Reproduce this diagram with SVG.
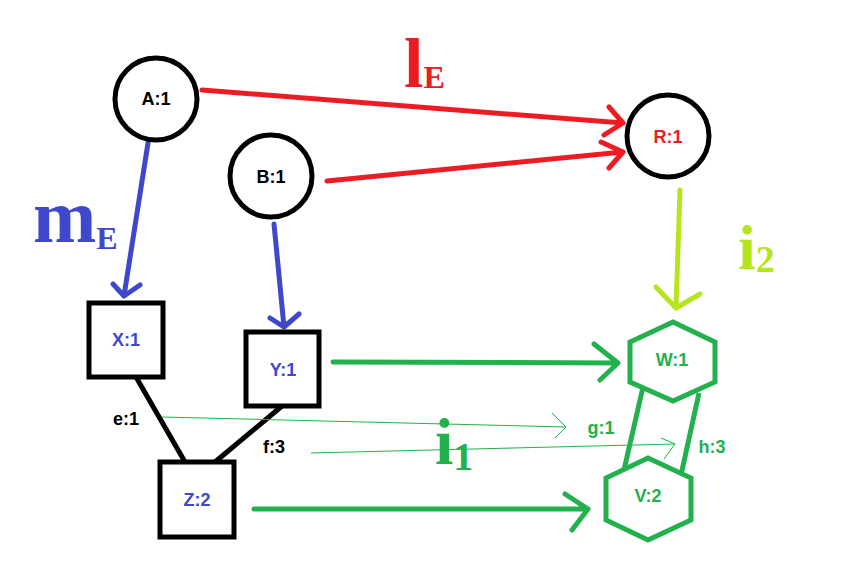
<svg xmlns="http://www.w3.org/2000/svg" width="845" height="579" viewBox="0 0 845 579">
<style>
.node{fill:#fff;stroke:#000;stroke-width:5}
.hex{fill:#fff;stroke:#22b14c;stroke-width:5;stroke-linejoin:miter}
.t{font-family:"Liberation Sans",Arial,sans-serif;font-weight:bold;font-size:18px;text-anchor:middle;dominant-baseline:central}
.lbl{font-family:"Liberation Serif","Times New Roman",serif;font-weight:bold}
.red{stroke:#ed1c24;stroke-width:5;fill:none;stroke-linecap:round;stroke-linejoin:round}
.blue{stroke:#3f48cc;stroke-width:5;fill:none;stroke-linecap:round;stroke-linejoin:round}
.grn{stroke:#22b14c;stroke-width:5;fill:none;stroke-linecap:round;stroke-linejoin:round}
.thin{stroke:#22b14c;stroke-width:1;fill:none}
.lime{stroke:#b5e61d;stroke-width:5;fill:none;stroke-linecap:round;stroke-linejoin:round}
.edge{stroke:#000;stroke-width:5;fill:none}
.gedge{stroke:#22b14c;stroke-width:5;fill:none}
</style>
<rect width="845" height="579" fill="#fff"/>
<g id="connectors">
<line class="edge" x1="136" y1="377" x2="185" y2="462"/>
<line class="edge" x1="282" y1="406" x2="215" y2="462"/>
<line class="gedge" x1="643" y1="387" x2="624" y2="470"/>
<line class="gedge" x1="699" y1="393" x2="681" y2="475"/>
<path class="red" d="M202,90 L623,123 M609,107 L623,123 L604,135"/>
<path class="red" d="M327,181 L623,152 M601,142 L623,152 L609,168"/>
<path class="blue" d="M148,143 L124,296 M113,284 L124,296 L140,285"/>
<path class="blue" d="M274,224 L284,327 M270,318 L284,327 L299,314"/>
<path class="grn" d="M333,362 L618,363 M594,344 L618,363 L600,380"/>
<path class="grn" d="M254,509 L588,509 M565,494 L588,509 L572,530"/>
<path class="lime" d="M680,190 L676,308 M656,287 L676,308 L700,294"/>
<path class="thin" d="M162,417 L566,427 M552,413 L566,427 L555,438"/>
<path class="thin" d="M311,453 L675,444 M661,438 L675,444 L664,459"/>
</g>
<g id="A"><circle class="node" cx="156" cy="99" r="41"/><text class="t" x="156" y="99">A:1</text></g>
<g id="B"><circle class="node" cx="271" cy="176" r="41"/><text class="t" x="271" y="177">B:1</text></g>
<g id="R"><circle class="node" cx="668" cy="136" r="41"/><text class="t" x="668" y="137" fill="#ed1c24">R:1</text></g>
<g id="X"><rect class="node" x="89" y="303" width="74" height="74"/><text class="t" x="126" y="340" fill="#3f48cc">X:1</text></g>
<g id="Y"><rect class="node" x="246" y="332" width="73" height="74"/><text class="t" x="283" y="370" fill="#3f48cc">Y:1</text></g>
<g id="Z"><rect class="node" x="160" y="462" width="74" height="75"/><text class="t" x="197" y="500" fill="#3f48cc">Z:2</text></g>
<g id="W"><polygon class="hex" points="673,322 715,342 715,382 673,401 630,382 630,342"/><text class="t" x="672" y="360" fill="#22b14c">W:1</text></g>
<g id="V"><polygon class="hex" points="648,458 691,478 691,520 648,540 606,520 606,478"/><text class="t" x="648" y="496" fill="#22b14c">V:2</text></g>
<g id="labels">
<text class="t" x="126" y="419" fill="#000">e:1</text>
<text class="t" x="274" y="447" fill="#000">f:3</text>
<text class="t" x="601" y="428" fill="#22b14c">g:1</text>
<text class="t" x="712" y="447" fill="#22b14c">h:3</text>
<text class="lbl" x="404" y="87" font-size="70" fill="#ed1c24">l<tspan font-size="32" dy="1">E</tspan></text>
<text class="lbl" x="33" y="242" font-size="76" fill="#3f48cc">m<tspan font-size="32" dy="7">E</tspan></text>
<text class="lbl" x="435" y="464" font-size="66" fill="#22b14c">i<tspan font-size="40" dy="6">1</tspan></text>
<text class="lbl" x="738" y="269" font-size="64" fill="#b5e61d">i<tspan font-size="38" dy="3">2</tspan></text>
</g>
</svg>
